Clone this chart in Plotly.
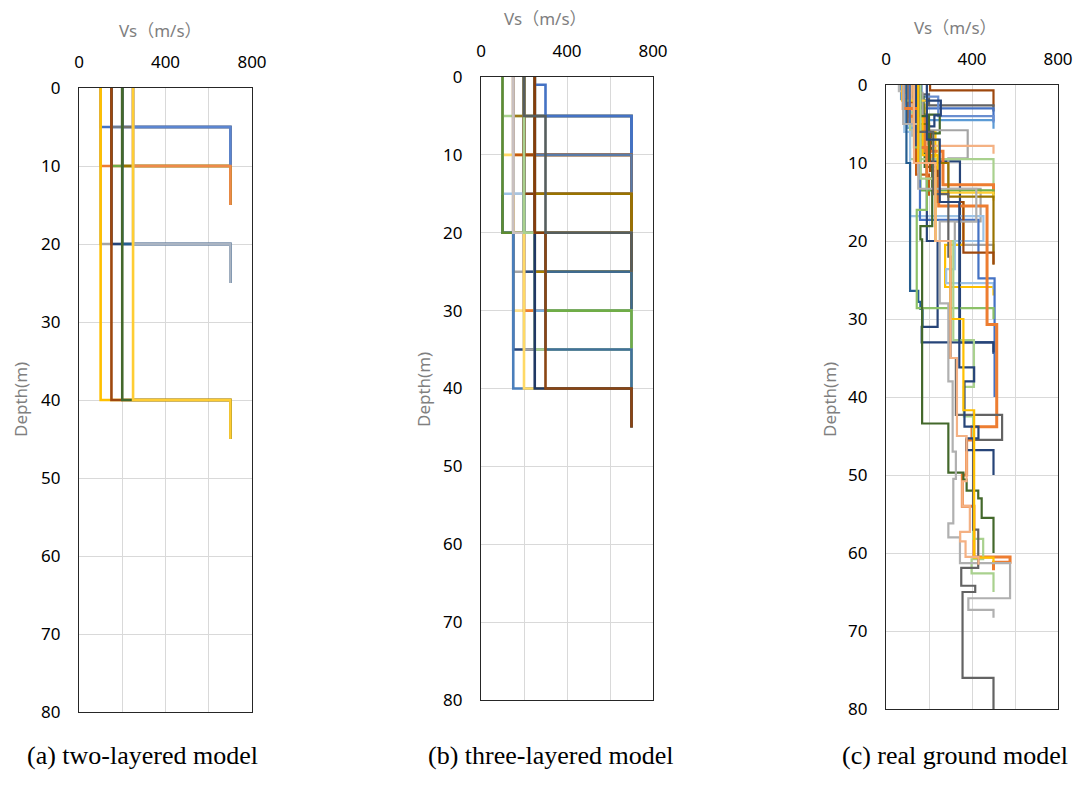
import plotly.graph_objects as go

# ---------------- data ----------------
# (a) two-layered model: surface layer Vs, layer thickness, base Vs
vs1_a = [100, 150, 200, 250]
h_a = [5, 10, 20, 40]
vs_base = 700
tail = 5
colors_a = {
    (100, 5): "#4472C4", (100, 10): "#ED7D31", (100, 20): "#A5A5A5", (100, 40): "#FFC000",
    (150, 5): "#6E7B8F", (150, 10): "#70AD47", (150, 20): "#264478", (150, 40): "#9E480E",
    (200, 5): "#707070", (200, 10): "#997300", (200, 20): "#255E91", (200, 40): "#43682B",
    (250, 5): "#5B85D0", (250, 10): "#EE8A4A", (250, 20): "#AAB4C2", (250, 40): "#FFCD33",
}

# (b) three-layered model
vs1_b = [100, 150, 200, 250]
h_deep_b = [25, 30, 35, 40]
h_shallow_b = [5, 10, 15, 20]
h_mid_b = 20
vs_step_b = 50
colors_b_deep = {
    (25, 100): "#A5A5A5", (25, 150): "#2F4F7F", (25, 200): "#A67C00", (25, 250): "#3F6B8F",
    (30, 100): "#FFE08A", (30, 150): "#ED7D31", (30, 200): "#7CAFDD", (30, 250): "#70AD47",
    (35, 100): "#264478", (35, 150): "#A5A5A5", (35, 200): "#A9D18E", (35, 250): "#41719C",
    (40, 100): "#4A7EBB", (40, 150): "#FFD966", (40, 200): "#203864", (40, 250): "#8B4513",
}
colors_b_shallow = {
    (5, 100): "#A9D18E", (5, 150): "#9C7A1A", (5, 200): "#7F7F7F", (5, 250): "#4472C4",
    (10, 100): "#FFD966", (10, 150): "#C55A11", (10, 200): "#9E480E", (10, 250): "#5A7BA8",
    (15, 100): "#9DC3E6", (15, 150): "#A9C4DE", (15, 200): "#843C0C", (15, 250): "#997300",
    (20, 100): "#5E8C31", (20, 150): "#C9C0C0", (20, 200): "#A9D18E", (20, 250): "#843C0C",
}
extra_b = [
    ([0, 1, 5, 10], [250, 300, 700], "#4472C4"),
    ([0, 5, 20, 25], [200, 300, 700], "#565E5E"),
]

# (c) real ground model: (layer boundaries [m], Vs per layer [m/s], colour)
profiles_c = [
    ([0, 0.7, 2.8], [205, 500], "#9E480E"),
    ([0, 1.2, 2.6, 3.4], [110, 200, 500], "#636363"),
    ([0, 3.0, 4.6], [165, 500], "#4472C4"),
    ([0, 1.8, 4.5, 5.6], [70, 125, 500], "#5B9BD5"),
    ([0, 1.5, 4.0, 4.8], [100, 243, 500], "#698ED0"),
    ([0, 0.8, 2.4, 3.6, 6.5, 8.0], [60, 95, 140, 120, 180], "#B7B7B7"),
    ([0, 1.0, 3.0, 5.5, 7.0, 9.0], [85, 120, 100, 150, 170], "#7CAFDD"),
    ([0, 2.5, 4.2, 6.0, 9.2, 11.0], [140, 180, 160, 230, 215], "#FFC000"),
    ([0, 1.5, 3.8, 6.2, 8.3, 10.5, 12.0], [115, 175, 250, 210, 180, 235], "#43682B"),
    ([0, 2.0, 3.9, 5.3, 9.8, 33.0, 34.5], [150, 255, 225, 190, 344, 500], "#264478"),
    ([0, 1.0, 5.8, 9.4, 13.3, 17.5, 20.5, 21.5], [90, 170, 380, 290, 440, 320, 500], "#A5A5A5"),
    ([0, 5.0, 7.8, 8.8], [120, 189, 500], "#F4B183"),
    ([0, 3.5, 9.5, 13.0], [150, 112, 500], "#A9D18E"),
    ([0, 4.0, 8.5, 12.8, 14.0], [100, 180, 265, 500], "#ED7D31"),
    ([0, 2.2, 5.0, 7.5, 11.5, 14.2], [130, 100, 160, 140, 200], "#C55A11"),
    ([0, 6.0, 13.5, 14.5], [140, 160, 500], "#70AD47"),
    ([0, 2.0, 7.0, 13.8, 14.8], [75, 190, 245, 500], "#FFCD33"),
    ([0, 5.0, 10.0, 14.3, 19.9, 23.0], [110, 200, 290, 500, 500], "#997300"),
    ([0, 4.0, 9.0, 15.0, 20.5, 25.9, 27.0], [130, 170, 240, 360, 275, 500], "#FFC000"),
    ([0, 6.0, 16.8, 20.0, 23.6, 25.4, 26.2], [85, 112, 453, 320, 280, 500], "#9DC3E6"),
    ([0, 5.0, 17.3, 24.8, 40.0], [110, 158, 430, 505], "#4472C4"),
    ([0, 6.0, 11.0, 15.0, 21.5, 23.0], [140, 205, 240, 360, 500], "#9E480E"),
    ([0, 10.0, 26.4, 27.8, 28.7, 31.0], [95, 112, 150, 160, 170], "#255E91"),
    ([0, 8.0, 20.0, 31.0, 33.0, 34.3], [140, 190, 240, 166, 500], "#264478"),
    ([0, 8.0, 16.0, 28.6, 30.0], [130, 190, 143, 500], "#8CC168"),
    ([0, 3.0, 8.0, 12.0, 15.5, 30.7, 43.8, 45.5, 50.0, 54.0, 60.5, 61.2, 62.2],
     [80, 150, 190, 245, 470, 515, 400, 375, 355, 409, 577, 500], "#ED7D31"),
    ([0, 4.0, 10.0, 18.1, 19.8, 43.4, 49.7, 50.6, 52.0, 53.0, 55.5, 60.0],
     [160, 200, 215, 160, 168, 290, 360, 375, 429, 445, 500], "#43682B"),
    ([0, 12.0, 20.0, 32.7, 38.7, 42.5, 58.2, 60.8, 62.6, 65.0],
     [160, 230, 313, 409, 362, 405, 452, 398, 500], "#A9D18E"),
    ([0, 5.0, 13.3, 17.5, 28.0, 38.0, 47.0, 50.5, 56.2, 58.0, 61.3, 65.8, 67.3, 68.3],
     [80, 150, 420, 250, 290, 310, 325, 313, 290, 344, 577, 383, 500], "#B0B0B0"),
    ([0, 6.0, 14.0, 22.0, 35.0, 42.3, 45.5, 57.0, 61.9, 64.2, 65.0, 76.0, 80.0],
     [150, 220, 290, 300, 325, 540, 405, 429, 350, 415, 356, 500], "#636363"),
    ([0, 7.0, 15.0, 36.2, 38.0, 43.8, 45.3, 46.8, 50.0], [190, 250, 341, 410, 365, 430, 375, 500], "#264478"),
    ([0, 10.0, 20.0, 30.0, 41.7, 60.6, 61.2], [150, 230, 300, 360, 410, 500], "#FFC000"),
    ([0, 10.0, 20.0, 35.0, 45.0, 50.8, 54.0, 57.3, 58.5, 60.5, 61.5],
     [130, 230, 300, 330, 375, 355, 390, 345, 370, 430], "#F4B183"),
]

x_ticks = [0, 400, 800]
y_ticks = [0, 10, 20, 30, 40, 50, 60, 70, 80]
captions = ["(a) two-layered model", "(b) three-layered model", "(c) real ground model"]
x_title = "Vs（m/s）"
y_title = "Depth(m)"


def step(depths, vs):
    xs, ys = [], []
    for i, v in enumerate(vs):
        xs += [v, v]
        ys += [depths[i], depths[i + 1]]
    return xs, ys


fig = go.Figure()


def add(depths, vs, color, axis, width):
    xs, ys = step(depths, vs)
    fig.add_trace(go.Scatter(x=xs, y=ys, mode="lines", line=dict(color=color, width=width),
                             xaxis="x" + axis, yaxis="y" + axis, showlegend=False,
                             hoverinfo="skip"))


# (a)
for v in vs1_a:
    for h in h_a:
        add([0, h, h + tail], [v, vs_base], colors_a[(v, h)], "", 2.6)

# (b) deep group
for h in h_deep_b:
    for v in vs1_b:
        add([0, h_mid_b, h, h + tail], [v, v + vs_step_b, vs_base], colors_b_deep[(h, v)], "2", 2.6)
# (b) shallow group with one extra inserted
for h in h_shallow_b:
    for v in vs1_b:
        add([0, h, h + tail], [v, vs_base], colors_b_shallow[(h, v)], "2", 2.6)
    if h == 5:
        d, vv, c = extra_b[0]
        add(d, vv, c, "2", 2.6)
d, vv, c = extra_b[1]
add(d, vv, c, "2", 2.6)

# (c)
for d, vv, c in profiles_c:
    add(d, vv, c, "3", 3.0 if c == "#ED7D31" else 2.2)

W, H = 1081, 787
boxes = [(79, 252, 88, 712), (481, 653, 77, 700), (886, 1058, 85, 709)]

tickfont = dict(family="Noto Sans, Liberation Sans, sans-serif", size=17, color="#000000")
layout = dict(width=W, height=H, margin=dict(l=0, r=0, t=0, b=0, autoexpand=False),
              paper_bgcolor="white", plot_bgcolor="white", showlegend=False)
names = ["", "2", "3"]
for n, (x0, x1, y0, y1) in zip(names, boxes):
    layout["xaxis" + n] = dict(
        domain=[x0 / W, x1 / W], range=[0, 800], side="top", tickvals=x_ticks,
        showgrid=True, gridcolor="#D9D9D9", gridwidth=1,
        minor=dict(dtick=200, tick0=0, showgrid=True, gridcolor="#D9D9D9", ticks=""),
        showline=True, mirror=True, linecolor="#262626", linewidth=1.3,
        ticks="outside", ticklen=12, tickcolor="rgba(0,0,0,0)", tickfont=tickfont,
        zeroline=False, anchor="y" + n, fixedrange=True, automargin=False)
    layout["yaxis" + n] = dict(
        domain=[1 - y1 / H, 1 - y0 / H], range=[80, 0], tickvals=y_ticks,
        showgrid=True, gridcolor="#D9D9D9", gridwidth=1,
        showline=True, mirror=True, linecolor="#262626", linewidth=1.3,
        ticks="outside", ticklen=14, tickcolor="rgba(0,0,0,0)", tickfont=tickfont,
        zeroline=False, anchor="x" + n, fixedrange=True, automargin=False)
fig.update_layout(**layout)

titlefont = dict(family="Noto Sans, Noto Sans CJK JP, sans-serif", size=17, color="#7F7F7F")
xt_pos = [(160, 30), (545, 18), (955, 28)]
yt_pos = [(20, 400), (423, 390), (829, 400)]
cap_pos = [(142, 755), (550, 755), (955, 755)]
for (xp, yp) in xt_pos:
    fig.add_annotation(text=x_title, x=xp / W, y=1 - yp / H, xref="paper", yref="paper",
                       showarrow=False, font=titlefont, xanchor="center", yanchor="middle")
for (xp, yp) in yt_pos:
    fig.add_annotation(text=y_title, x=xp / W, y=1 - yp / H, xref="paper", yref="paper",
                       showarrow=False, font=titlefont, textangle=-90,
                       xanchor="center", yanchor="middle")
for cap, (xp, yp) in zip(captions, cap_pos):
    fig.add_annotation(text=cap, x=xp / W, y=1 - yp / H, xref="paper", yref="paper",
                       showarrow=False, xanchor="center", yanchor="middle",
                       font=dict(family="Liberation Serif, Times New Roman, serif", size=26,
                                 color="#000000"))

fig.write_html("out.html")
